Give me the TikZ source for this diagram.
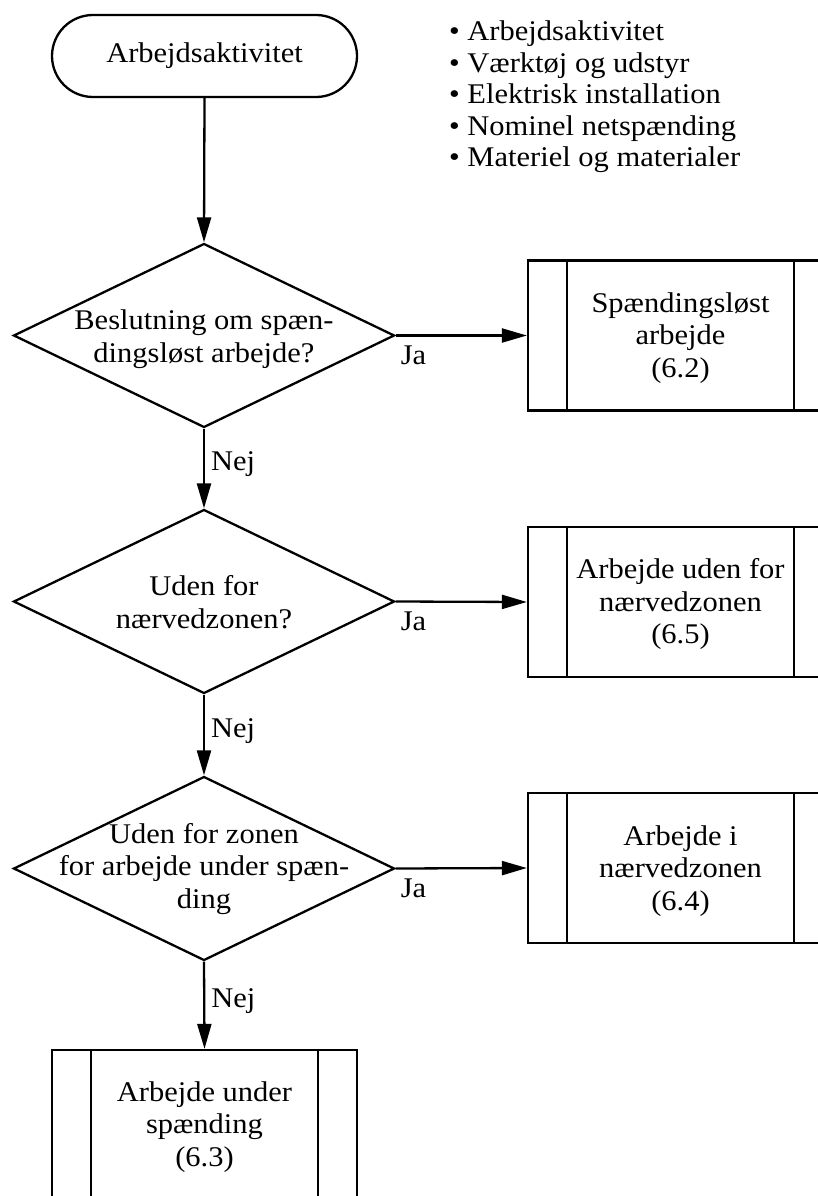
\documentclass[tikz,border=0pt]{standalone}
\usepackage{fontspec}
\setmainfont{Liberation Serif}[FakeStretch=1.07]
\usetikzlibrary{shapes.geometric,arrows.meta}
\begin{document}
\begin{tikzpicture}[x=1pt,y=-1pt,
  every node/.style={font=\fontsize{28.5}{32.5}\selectfont},
  outl/.style={draw=black, line width=2.3pt},
  term/.style={outl, rectangle, rounded corners=41pt, minimum width=305pt, minimum height=82pt, inner sep=0pt},
  dia/.style={outl, diamond, minimum width=381pt, minimum height=184pt, inner sep=0pt},
  proc/.style={outl, rectangle, minimum width=305pt, minimum height=150pt, inner sep=0pt},
  txt/.style={align=center, inner sep=0pt},
  lbl/.style={inner sep=0pt},
  arr/.style={line width=2.3pt, -{Triangle[length=25pt,width=14pt]}},
  bul/.style={anchor=base west, inner sep=0pt}
]
\useasboundingbox (0,0) rectangle (818,1196);

% start terminal
\node[term] (t0) at (204.5,56) {Arbejdsaktivitet};

% bullet list
\node[bul] (l1) at (449,41) {• Arbejdsaktivitet};
\node[bul] (l2) at (449,72.5) {• Værktøj og udstyr};
\node[bul] (l3) at (449,104) {• Elektrisk installation};
\node[bul] (l4) at (449,135.5) {• Nominel netspænding};
\node[bul] (l5) at (449,166) {• Materiel og materialer};

% decisions
\node[dia] (d1) at (204,335.5) {};
\node[txt] (d1t) at (204,339) {Beslutning om spæn-\\dingsløst arbejde?};
\node[dia] (d2) at (204,601.5) {};
\node[txt] (d2t) at (204,602) {Uden for\\nærvedzonen?};
\node[dia] (d3) at (204,868.5) {};
\node[txt] (d3t) at (204,869) {Uden for zonen\\for arbejde under spæn-\\ding};

% process boxes
\node[proc] (b1) at (680.5,335.5) {};
\node[txt] (b1t) at (680.5,338) {Spændingsløst\\arbejde\\(6.2)};
\node[proc] (b2) at (680.5,602) {};
\node[txt] (b2t) at (680.5,604) {Arbejde uden for\\nærvedzonen\\(6.5)};
\node[proc] (b3) at (680.5,868) {};
\node[txt] (b3t) at (680.5,871) {Arbejde i\\nærvedzonen\\(6.4)};
\node[proc] (b4) at (204.5,1125) {};
\node[txt] (b4t) at (204.5,1127) {Arbejde under\\spænding\\(6.3)};

\foreach \b in {b1,b2,b3,b4}{
  \draw[line width=2.3pt] ([xshift=40pt]\b.north west) -- ([xshift=40pt]\b.south west);
  \draw[line width=2.3pt] ([xshift=-40pt]\b.north east) -- ([xshift=-40pt]\b.south east);
}

% connectors
\draw[arr] (t0.south) -- (d1.north);
\draw[arr] (d1.east) -- node[lbl, pos=0, anchor=north west, xshift=4pt, yshift=-9pt] {Ja} (b1.west);
\draw[arr] (d2.east) -- node[lbl, pos=0, anchor=north west, xshift=4pt, yshift=-9pt] {Ja} (b2.west);
\draw[arr] (d3.east) -- node[lbl, pos=0, anchor=north west, xshift=4pt, yshift=-9pt] {Ja} (b3.west);
\draw[arr] (d1.south) -- node[lbl, pos=0.45, anchor=west, xshift=6pt] {Nej} (d2.north);
\draw[arr] (d2.south) -- node[lbl, pos=0.45, anchor=west, xshift=6pt] {Nej} (d3.north);
\draw[arr] (d3.south) -- node[lbl, pos=0.45, anchor=west, xshift=6pt] {Nej} (b4.north);
\end{tikzpicture}
\end{document}
